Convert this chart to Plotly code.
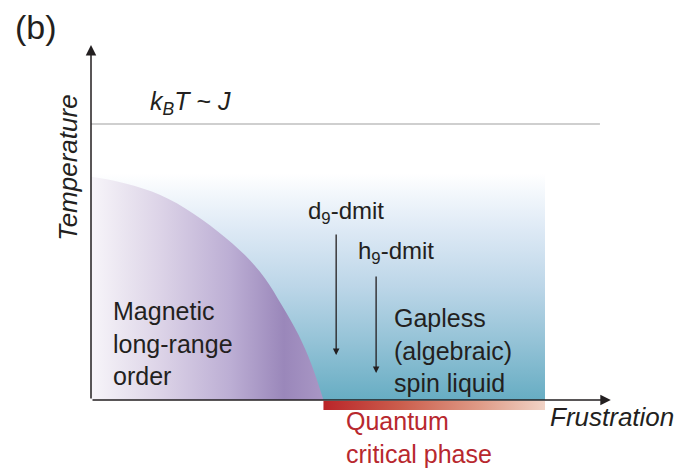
import plotly.graph_objects as go

# ---- schematic data (frustration f, temperature T; kBT~J at T=1) ----
dome_f = [0.000, 0.060, 0.134, 0.207, 0.280, 0.339, 0.383, 0.420, 0.457, 0.486, 0.512]
dome_T = [0.809, 0.791, 0.755, 0.695, 0.610, 0.525, 0.441, 0.344, 0.236, 0.127, 0.000]
liquid_f = [0.0, 1.0, 1.0, 0.0]     # spin-liquid region corners
liquid_T = [0.0, 0.0, 0.82, 0.82]
thermal_T = 1.0                     # kB T ~ J
thermal_f_end = 1.121
axis_f_end = 1.145
axis_T_end = 1.286
qc_f = [0.512, 1.0, 1.0, 0.512]      # quantum critical bar
qc_T = [-0.004, -0.004, -0.036, -0.036]
d9_arrow = [0.540, 0.605, 0.163]    # f, T_start, T_end
h9_arrow = [0.628, 0.453, 0.098]

W, H = 689, 468
x_range = [-91 / 454, 598 / 454]
y_range = [-68 / 276, 400 / 276]

fig = go.Figure()

# blue gradient (spin liquid region)
fig.add_trace(go.Scatter(
    x=liquid_f, y=liquid_T, mode="none", fill="toself",
    fillgradient=dict(type="vertical", start=0, stop=liquid_T[2],
                      colorscale=[[0, "#67adc3"], [0.25, "#93c2d6"], [0.5, "#bcd6e8"],
                                  [0.75, "#dde9f5"], [0.92, "#f4f8fc"], [1, "#ffffff"]]),
    hoverinfo="skip", showlegend=False))

# purple dome (magnetic order)
fig.add_trace(go.Scatter(
    x=dome_f, y=dome_T, mode="lines", line=dict(shape="spline", width=0, color="rgba(0,0,0,0)"),
    fill="tozeroy",
    fillgradient=dict(type="horizontal", start=0, stop=dome_f[-1],
                      colorscale=[[0, "#f7f5f9"], [0.3, "#dcd3e7"], [0.6, "#bcaed4"],
                                  [0.83, "#9a87ba"], [1, "#a997c5"]]),
    hoverinfo="skip", showlegend=False))

# quantum critical bar
fig.add_trace(go.Scatter(
    x=qc_f, y=qc_T, mode="none", fill="toself",
    fillgradient=dict(type="horizontal", start=qc_f[0], stop=qc_f[1],
                      colorscale=[[0, "#ba2529"], [0.35, "#cb5e4d"], [0.7, "#df9a86"], [1, "#f1d3c6"]]),
    hoverinfo="skip", showlegend=False))

# kBT ~ J line
fig.add_trace(go.Scatter(x=[0, thermal_f_end], y=[thermal_T, thermal_T], mode="lines",
                         line=dict(color="#cfcfcf", width=2), hoverinfo="skip", showlegend=False))

ann = []
ink = "#231f20"
# axes arrows
ann.append(dict(x=0, y=axis_T_end, ax=0, ay=0, xref="x", yref="y", axref="x", ayref="y",
                showarrow=True, arrowhead=2, arrowsize=1.4, arrowwidth=1.5, arrowcolor=ink, text=""))
ann.append(dict(x=axis_f_end, y=0, ax=0, ay=0, xref="x", yref="y", axref="x", ayref="y",
                showarrow=True, arrowhead=2, arrowsize=1.4, arrowwidth=1.5, arrowcolor=ink, text=""))
# sample arrows
for a in (d9_arrow, h9_arrow):
    ann.append(dict(x=a[0], y=a[2], ax=a[0], ay=a[1], xref="x", yref="y", axref="x", ayref="y",
                    showarrow=True, arrowhead=2, arrowsize=1.0, arrowwidth=1.3, arrowcolor=ink, text=""))

fnt = "Liberation Sans, Arial, sans-serif"
def txt(x, y, s, size=25, color=ink, xanchor="center", align="center", **kw):
    d = dict(x=x, y=y, xref="x", yref="y", text=s, showarrow=False,
             font=dict(family=fnt, size=size, color=color), xanchor=xanchor,
             yanchor="middle", align=align)
    d.update(kw)
    ann.append(d)

ann.append(dict(x=36 / W, y=1 - 27 / H, xref="paper", yref="paper", text="(b)", showarrow=False,
                font=dict(family=fnt, size=34, color=ink), xanchor="center", yanchor="middle"))
txt(-0.0507, 0.841, "<i>Temperature</i>", size=26, textangle=-90)
txt(0.220, 1.076, "<i>k</i><sub><i>B</i></sub><i>T</i> ~ <i>J</i>", size=25)
txt(1.148, -0.062, "<i>Frustration</i>", size=26)
txt(0.562, 0.678, "d<sub>9</sub>-dmit", size=24)
txt(0.672, 0.536, "h<sub>9</sub>-dmit", size=24)
txt(0.662, 0.181, "Gapless<br>(algebraic)<br>spin liquid", size=25, xanchor="left", align="left")
txt(0.044, 0.203, "Magnetic<br>long-range<br>order", size=25, xanchor="left", align="left")
txt(0.557, -0.137, "Quantum<br>critical phase", size=25, color="#b8282e", xanchor="left", align="left")

fig.update_layout(
    width=W, height=H, autosize=False, margin=dict(l=0, r=0, t=0, b=0),
    paper_bgcolor="white", plot_bgcolor="white", showlegend=False,
    xaxis=dict(range=x_range, visible=False, fixedrange=True),
    yaxis=dict(range=y_range, visible=False, fixedrange=True),
    annotations=ann)

fig.write_html("out.html", config={"displayModeBar": False},
               post_script="document.body.style.margin='0';document.body.style.overflow='hidden';")
